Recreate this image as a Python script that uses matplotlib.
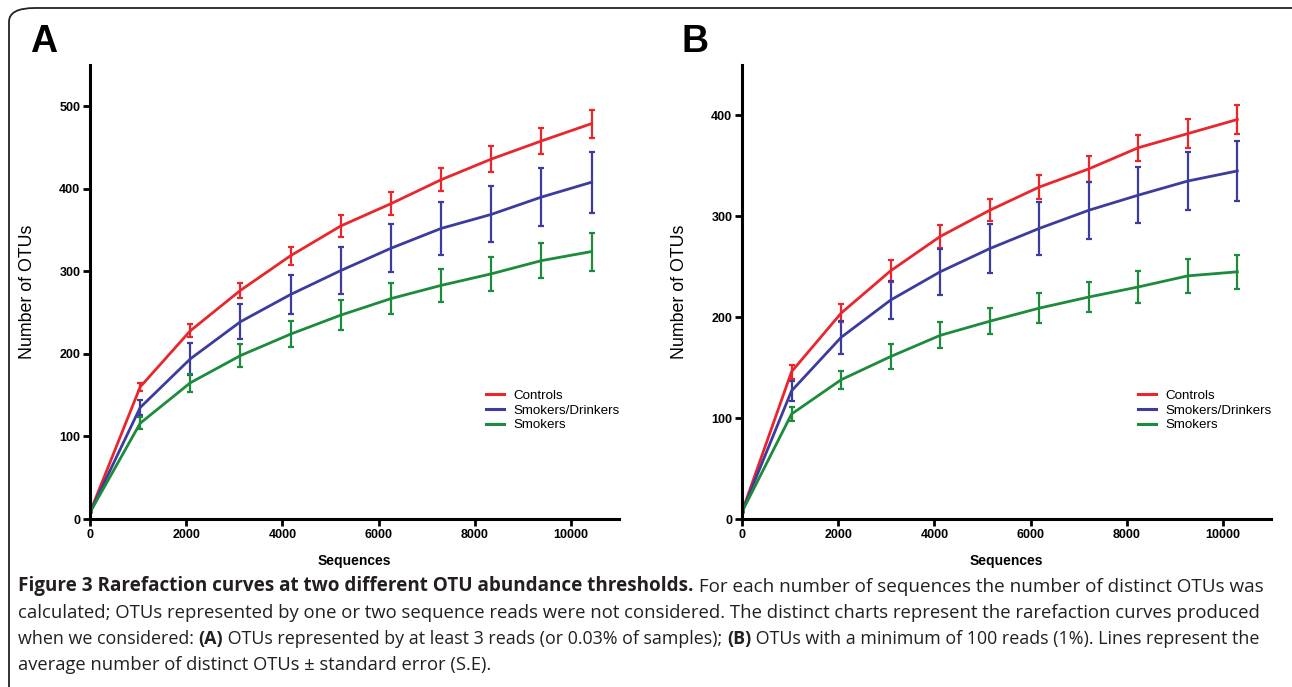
import numpy as np
import matplotlib
matplotlib.use("Agg")
import matplotlib.pyplot as plt
from matplotlib.patches import FancyBboxPatch
from matplotlib.lines import Line2D

W, H = 1292, 687

# ---- data ----
seq_a = [0, 1043, 2086, 3129, 4172, 5215, 6258, 7301, 8344, 9387, 10430]
controls_a = [8, 160, 228, 277, 319, 355, 382, 411, 436, 458, 479]
controls_a_se = [0, 5, 8, 9, 11, 13, 14, 14, 16, 16, 17]
smkdrk_a = [8, 135, 194, 239, 272, 301, 328, 352, 369, 390, 408]
smkdrk_a_se = [0, 9, 19, 21, 24, 28, 29, 32, 34, 35, 37]
smokers_a = [8, 116, 165, 198, 224, 247, 267, 283, 297, 313, 324]
smokers_a_se = [0, 7, 11, 14, 16, 18, 19, 20, 21, 21, 23]

seq_b = [0, 1030, 2060, 3090, 4120, 5150, 6180, 7210, 8240, 9270, 10300]
controls_b = [7, 146, 204, 246, 280, 306, 329, 347, 368, 382, 396]
controls_b_se = [0, 7, 9, 11, 11, 11, 12, 13, 13, 14, 14]
smkdrk_b = [7, 127, 180, 217, 245, 268, 288, 306, 321, 335, 345]
smkdrk_b_se = [0, 10, 16, 19, 23, 24, 26, 28, 28, 29, 30]
smokers_b = [7, 104, 138, 161, 182, 196, 209, 220, 230, 241, 245]
smokers_b_se = [0, 7, 9, 12, 13, 13, 15, 15, 16, 17, 17]

groups = ['Controls', 'Smokers/Drinkers', 'Smokers']
colors = ['#e8262c', '#3b3c9e', '#1c8b3c']

plt.rcParams['font.family'] = ['Liberation Sans', 'DejaVu Sans']

fig = plt.figure(figsize=(W / 100, H / 100), dpi=100)
fig.patch.set_facecolor('white')

# rounded frame around the whole figure
frame = FancyBboxPatch((9 / W, -0.05), 1.1, 1.0 - 8 / H + 0.05,
                       boxstyle='round,pad=0,rounding_size=0.02',
                       transform=fig.transFigure, fill=False,
                       edgecolor='#222222', linewidth=1.3)
fig.patches.append(frame)


def panel(left_px, ymax, seq, series, letter):
    ax = fig.add_axes([left_px / W, (H - 519) / H, 529 / W, 454 / H])
    for (vals, se), c in zip(series, colors):
        ax.errorbar(seq, vals, yerr=se, color=c, lw=2.0, elinewidth=1.6,
                    capsize=2.5, capthick=1.6)
    ax.set_xlim(0, 11000)
    ax.set_ylim(0, ymax)
    ax.set_xticks([0, 2000, 4000, 6000, 8000, 10000])
    ax.set_yticks(np.arange(0, ymax, 100))
    for s in ['top', 'right']:
        ax.spines[s].set_visible(False)
    for s in ['left', 'bottom']:
        ax.spines[s].set_linewidth(2.2)
    ax.tick_params(width=2, length=5, labelsize=9, pad=2)
    for lab in ax.get_xticklabels() + ax.get_yticklabels():
        lab.set_fontweight('bold')
    ax.set_ylabel('Number of OTUs', fontsize=12.8)
    ax.yaxis.set_label_coords(-0.102, 0.5)
    ax.set_xlabel('Sequences', fontsize=10, fontweight='bold')
    ax.xaxis.set_label_coords(0.5, -0.077)
    handles = [Line2D([], [], color=c, lw=2.2) for c in colors]
    ax.legend(handles, groups, loc='upper left', bbox_to_anchor=(0.748, 0.285),
              frameon=False, fontsize=9.6, handlelength=1.4, handletextpad=0.7,
              labelspacing=0.18, borderpad=0, borderaxespad=0)
    fig.text((left_px - 60) / W, 1 - 42 / H, letter, fontsize=27,
             fontweight='black', va='center', ha='left')
    return ax


panel(90, 550, seq_a,
      [(controls_a, controls_a_se), (smkdrk_a, smkdrk_a_se), (smokers_a, smokers_a_se)], 'A')
panel(742, 450, seq_b,
      [(controls_b, controls_b_se), (smkdrk_b, smkdrk_b_se), (smokers_b, smokers_b_se)], 'B')

# ---- caption ----
cap = fig.add_axes([0, 0, 1, 1], zorder=-1)
cap.axis('off')
cfont = ['Open Sans', 'DejaVu Sans']
csize = 13.2
ccol = '#231f20'

lines = [
    [("Figure 3 Rarefaction curves at two different OTU abundance thresholds.", True),
     (" For each number of sequences the number of distinct OTUs was", False)],
    [("calculated; OTUs represented by one or two sequence reads were not considered. "
      "The distinct charts represent the rarefaction curves produced", False)],
    [("when we considered: ", False), ("(A)", True),
     (" OTUs represented by at least 3 reads (or 0.03% of samples); ", False),
     ("(B)", True), (" OTUs with a minimum of 100 reads (1%). Lines represent the", False)],
    [("average number of distinct OTUs \u00b1 standard error (S.E).", False)],
]
# right edge (px) of each justified caption line in the reference
line_ends = [1262, 1262, 1268, None]
y0 = 586
for i, segs in enumerate(lines):
    y = 1 - (y0 + i * 26.5) / H
    prev = None
    drawn = []
    for txt, bold in segs:
        kw = dict(fontsize=csize, family=cfont, color=ccol,
                  fontweight='bold' if bold else 'normal')
        if prev is None:
            prev = cap.text(18 / W, y, txt, va='center', ha='left',
                            transform=fig.transFigure, **kw)
        else:
            prev = cap.annotate(txt, xy=(1, 0), xycoords=prev, va='bottom',
                                ha='left', **kw)
        drawn.append(prev)
    if line_ends[i] is not None:
        r = fig.canvas.get_renderer()
        right = drawn[-1].get_window_extent(r).x1
        scale = (line_ends[i] - 18) / (right - 18)
        for t in drawn:
            t.set_fontsize(csize * scale)

fig.savefig('out.png', dpi=100)
